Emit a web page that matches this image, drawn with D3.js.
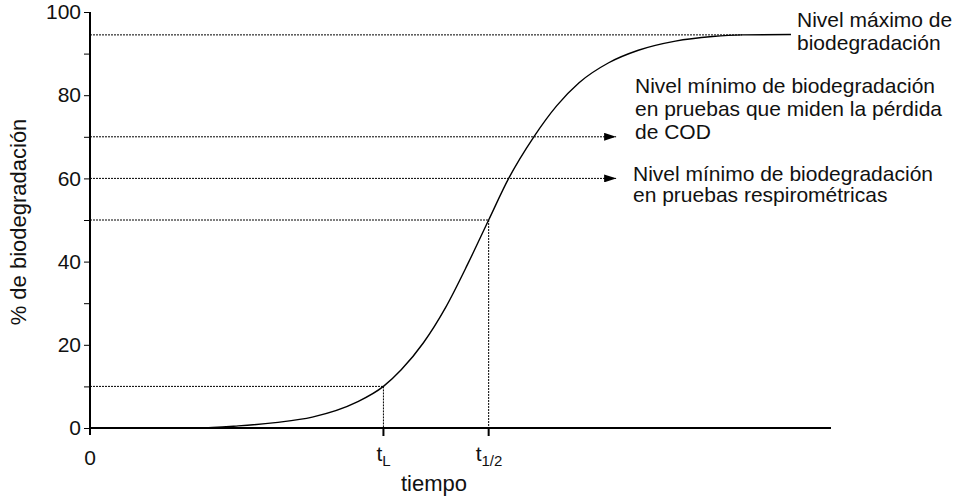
<!DOCTYPE html>
<html>
<head>
<meta charset="utf-8">
<script src="https://cdn.jsdelivr.net/npm/d3@7"></script>
<style>
  html, body { margin: 0; padding: 0; background: #fff; }
  svg { display: block; font-family: "Liberation Sans", Arial, Helvetica, sans-serif; }
</style>
</head>
<body>
<script>
// curva de biodegradación (tiempo en unidades arbitrarias, % de biodegradación)
var curveT = [0, 14.5, 20, 25, 30, 36, 39.6, 42, 45, 48, 51, 53.8, 56.5, 59.9, 63, 66, 70, 74, 79, 84, 88, 94.6];
var curveY = [0, 0, 0.5, 1.3, 2.6, 6.2, 10, 14, 20.5, 29, 39.5, 50, 60, 70, 77.5, 83, 87.8, 90.8, 93, 94.1, 94.5, 94.6];

var yTicks = [0, 10, 20, 30, 40, 50, 60, 70, 80, 90, 100];
var yTickLabels = ['0', '', '20', '', '40', '', '60', '', '80', '', '100'];

var tL = 39.6, tHalf = 53.8;
var maxLevel = 94.5;
// niveles con flecha
var arrowLevels = [70, 60];
var arrowEnd = 71;

var annoMax = ['Nivel máximo de', 'biodegradación'];
var annoCOD = ['Nivel mínimo de biodegradación', 'en pruebas que miden la pérdida', 'de COD'];
var annoResp = ['Nivel mínimo de biodegradación', 'en pruebas respirométricas'];

var W = 966, H = 503;
var svg = d3.select('body').append('svg')
    .attr('width', W)
    .attr('height', H);

svg.append('defs').append('marker')
    .attr('id', 'arrow')
    .attr('viewBox', '0 0 12 8')
    .attr('refX', 12).attr('refY', 4)
    .attr('markerWidth', 12).attr('markerHeight', 8)
    .attr('markerUnits', 'userSpaceOnUse')
    .attr('orient', 'auto')
  .append('path')
    .attr('d', 'M0,0 L12,4 L0,8 Z')
    .attr('fill', '#000');

var x = d3.scaleLinear().domain([0, 100]).range([90, 831]);
var y = d3.scaleLinear().domain([0, 100]).range([428, 12]);

var dots = '2,1';

// líneas punteadas horizontales
svg.append('line')
    .attr('x1', x(0)).attr('x2', x(88))
    .attr('y1', y(maxLevel)).attr('y2', y(maxLevel))
    .attr('stroke', '#000').attr('stroke-width', 1).attr('stroke-dasharray', dots);

svg.selectAll('line.arrow')
    .data(arrowLevels)
    .enter().append('line')
    .attr('class', 'arrow')
    .attr('x1', x(0)).attr('x2', x(arrowEnd))
    .attr('y1', function(d) { return y(d); })
    .attr('y2', function(d) { return y(d); })
    .attr('stroke', '#000').attr('stroke-width', 1).attr('stroke-dasharray', dots)
    .attr('marker-end', 'url(#arrow)');

// t1/2 y tL
var guides = [[tHalf, 50], [tL, 10]];
guides.forEach(function(g) {
    svg.append('line')
        .attr('x1', x(0)).attr('x2', x(g[0]))
        .attr('y1', y(g[1])).attr('y2', y(g[1]))
        .attr('stroke', '#000').attr('stroke-width', 1).attr('stroke-dasharray', dots);
    svg.append('line')
        .attr('x1', x(g[0])).attr('x2', x(g[0]))
        .attr('y1', y(g[1])).attr('y2', y(0))
        .attr('stroke', '#000').attr('stroke-width', 1).attr('stroke-dasharray', dots);
});

// curva
var pts = curveT.map(function(t, i) { return [t, curveY[i]]; });
var line = d3.line()
    .x(function(d) { return x(d[0]); })
    .y(function(d) { return y(d[1]); })
    .curve(d3.curveMonotoneX);
svg.append('path')
    .datum(pts)
    .attr('d', line)
    .attr('fill', 'none')
    .attr('stroke', '#000')
    .attr('stroke-width', 1.4);

// eje y
var yAxis = d3.axisLeft(y)
    .tickValues(yTicks)
    .tickFormat(function(d, i) { return yTickLabels[i]; })
    .tickSize(6)
    .tickPadding(3);
var gy = svg.append('g')
    .attr('transform', 'translate(' + x(0) + ',0)')
    .call(yAxis);
gy.select('.domain').remove();
gy.append('line')
    .attr('x1', 0).attr('x2', 0)
    .attr('y1', y(100)).attr('y2', y(0) + 7)
    .attr('stroke', '#000').attr('stroke-width', 2);
gy.selectAll('.tick line').attr('stroke', '#000').attr('stroke-width', 1);
gy.selectAll('.tick text')
    .attr('font-size', 21)
    .attr('fill', '#111')
    .attr('font-family', '"Liberation Sans", Arial, sans-serif');

// eje x
svg.append('line')
    .attr('x1', x(0)).attr('x2', x(100))
    .attr('y1', y(0)).attr('y2', y(0))
    .attr('stroke', '#000').attr('stroke-width', 2);
svg.selectAll('line.xtick')
    .data([tL, tHalf])
    .enter().append('line')
    .attr('class', 'xtick')
    .attr('x1', function(d) { return x(d); })
    .attr('x2', function(d) { return x(d); })
    .attr('y1', y(0)).attr('y2', y(0) + 8)
    .attr('stroke', '#000').attr('stroke-width', 2);

var xt = svg.append('g').attr('font-size', 21).attr('fill', '#111');
xt.append('text')
    .attr('x', x(0)).attr('y', 465)
    .attr('text-anchor', 'middle')
    .text('0');
var tl = xt.append('text').attr('x', x(tL) - 7).attr('y', 461);
tl.append('tspan').text('t');
tl.append('tspan').attr('dy', 5).attr('font-size', 15).text('L');
var th = xt.append('text').attr('x', x(tHalf) - 13).attr('y', 461);
th.append('tspan').text('t');
th.append('tspan').attr('dy', 5).attr('font-size', 15).text('1/2');

// títulos de ejes
svg.append('text')
    .attr('x', 434).attr('y', 491)
    .attr('text-anchor', 'middle')
    .attr('font-size', 22)
    .attr('fill', '#111')
    .text('tiempo');
svg.append('text')
    .attr('transform', 'translate(26,222) rotate(-90)')
    .attr('text-anchor', 'middle')
    .attr('font-size', 22)
    .attr('fill', '#111')
    .text('% de biodegradación');

// anotaciones
function block(lines, x0, y0, lh) {
    svg.append('g').selectAll('text')
        .data(lines)
        .enter().append('text')
        .attr('x', x0)
        .attr('y', function(d, i) { return y0 + i * lh; })
        .attr('font-size', 21)
        .attr('fill', '#111')
        .text(function(d) { return d; });
}
block(annoMax, 797, 27, 23);
block(annoCOD, 635, 93, 23);
block(annoResp, 633, 181, 21);
</script>
</body>
</html>
